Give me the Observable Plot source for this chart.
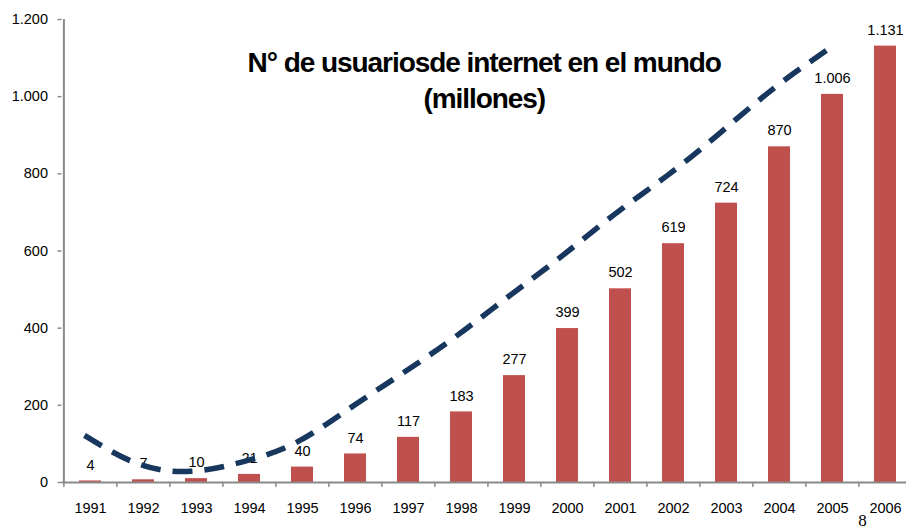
<!DOCTYPE html>
<html>
<head>
<meta charset="utf-8">
<script src="https://cdn.jsdelivr.net/npm/d3@7"></script>
<script src="https://cdn.jsdelivr.net/npm/@observablehq/plot@0.6"></script>
<style>
  html, body { margin: 0; padding: 0; background: #fff; }
  #chart svg { display: block; }
</style>
</head>
<body>
<div id="chart"></div>
<script>
// Data
const years = ["1991","1992","1993","1994","1995","1996","1997","1998","1999","2000","2001","2002","2003","2004","2005","2006"];
const users = [4, 7, 10, 21, 40, 74, 117, 183, 277, 399, 502, 619, 724, 870, 1006, 1131];
const trendYears = ["1991","1992","1993","1994","1995","1996","1997","1998","1999","2000","2001","2002","2003","2004","2005"];
const trendValues = [122, 49, 29, 54, 104, 192, 283, 378, 482, 586, 695, 796, 907, 1021, 1120];
const yTicks = [0, 200, 400, 600, 800, 1000, 1200];
const titleText = "N° de usuariosde internet en el mundo\n(millones)";
const pageNumber = "8";

const bars = years.map((year, i) => ({year, value: users[i]}));
const trend = trendYears.map((year, i) => ({year, value: trendValues[i]}));

const fmt = d3.formatLocale({decimal: ",", thousands: ".", grouping: [3], currency: ["", ""]}).format(",");

const W = 906, H = 529;
const xRange = [61.5, 913];
const step = (xRange[1] - xRange[0]) / years.length;
const gray = "#8a8a8a";

const chart = Plot.plot({
  width: W,
  height: H,
  marginTop: 19,
  marginBottom: 47,
  marginLeft: 61.5,
  marginRight: 0,
  style: {fontFamily: "'Liberation Sans', Arial, sans-serif", fontSize: "14.5px", color: "#000", background: "#fff"},
  x: {type: "band", domain: years, range: xRange, paddingInner: 0.58, paddingOuter: 0.29, label: null},
  y: {domain: [0, 1200], label: null},
  marks: [
    Plot.barY(bars, {x: "year", y: "value", fill: "#C0504D"}),
    Plot.ruleY([0], {stroke: gray, strokeWidth: 2}),
    Plot.ruleX([years[0]], {y1: 0, y2: 1200, dx: -step / 2, stroke: gray, strokeWidth: 2}),
    Plot.axisX({tickSize: 5, tickFormat: () => "", dx: -step / 2, stroke: gray, strokeWidth: 1.5}),
    Plot.axisX({tickSize: 0, tickPadding: 20, fill: "#000", fontSize: 14.5}),
    Plot.axisY({ticks: yTicks, tickSize: 4, tickPadding: 10, tickFormat: fmt, stroke: gray, strokeWidth: 1.5, fill: "#000", fontSize: 14.5}),
    Plot.text(bars, {x: "year", y: "value", text: d => fmt(d.value), dy: -16, fill: "#000", fontSize: 14.5}),
    Plot.line(trend, {x: "year", y: "value", dx: -6, curve: "natural", stroke: "#17375E", strokeWidth: 5.5, strokeDasharray: "20,12", strokeLinecap: "butt"}),
    Plot.text([titleText], {frameAnchor: "top", dy: 59, lineAnchor: "middle", lineHeight: 1.29, fontSize: 28, fontWeight: "bold", fill: "#000"}),
    Plot.text([pageNumber], {frameAnchor: "bottom-right", textAnchor: "middle", dx: -44, dy: 43, fontSize: 17, fontFamily: "'Liberation Serif', 'DejaVu Serif', serif", fill: "#000"})
  ]
});
chart.querySelectorAll("text").forEach(t => {
  if (t.textContent.startsWith("N°")) t.style.letterSpacing = "-1.05px";
});
document.getElementById("chart").appendChild(chart);
</script>
</body>
</html>
